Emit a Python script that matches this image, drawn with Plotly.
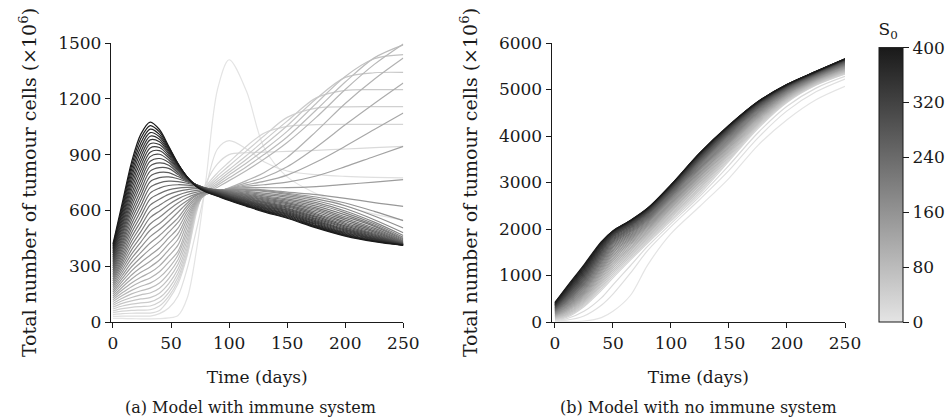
import plotly.graph_objects as go
from plotly.colors import sample_colorscale

# ---------------- data ----------------
S0_VALUES = [0, 10, 20, 30, 40, 50, 60, 70, 80, 90, 100, 110, 120, 130, 140, 150, 160, 170, 180, 190, 200,
             210, 220, 230, 240, 250, 260, 270, 280, 290, 300, 310, 320, 330, 340, 350, 360, 370, 380, 390, 400]

# (a) model with immune system: time points and one row per S0 value
TIME_A = [0, 8, 16, 24, 32, 40, 48, 56, 64, 72, 80, 90, 100, 115, 130, 150, 175, 200, 225, 250]
TUMOUR_IMMUNE = [
    [20, 19, 18, 17, 17, 18, 22, 35, 130, 390, 760, 1250, 1410, 1240, 940, 780, 690, 625, 580, 548],
    [30, 32, 32, 32, 32, 45, 75, 140, 290, 500, 720, 930, 975, 930, 862, 812, 792, 783, 778, 775],
    [40, 45, 47, 48, 48, 62, 120, 205, 360, 590, 745, 850, 900, 910, 913, 917, 923, 930, 937, 944],
    [50, 58, 62, 64, 66, 86, 138, 222, 368, 600, 727, 802, 860, 945, 1015, 1052, 1061, 1062, 1062, 1062],
    [60, 72, 79, 83, 86, 107, 158, 240, 382, 604, 717, 785, 840, 920, 1000, 1100, 1150, 1157, 1158, 1158],
    [70, 86, 96, 103, 108, 130, 180, 262, 400, 608, 710, 770, 820, 895, 975, 1080, 1205, 1245, 1249, 1249],
    [80, 100, 114, 124, 131, 155, 206, 285, 420, 612, 703, 757, 805, 875, 950, 1055, 1200, 1315, 1340, 1342],
    [90, 114, 132, 146, 156, 182, 233, 310, 442, 617, 698, 745, 790, 855, 925, 1025, 1175, 1320, 1415, 1437],
    [100, 128, 151, 168, 182, 210, 262, 335, 465, 622, 694, 735, 775, 835, 900, 995, 1140, 1290, 1420, 1490],
    [110, 142, 170, 192, 209, 240, 290, 360, 488, 628, 690, 725, 760, 815, 875, 965, 1100, 1250, 1385, 1495],
    [120, 157, 190, 216, 237, 270, 322, 380, 512, 634, 686, 700, 721, 760, 802, 885, 1025, 1175, 1305, 1419],
    [130, 172, 210, 241, 266, 302, 355, 413, 535, 640, 686, 700, 719, 748, 777, 835, 940, 1060, 1175, 1285],
    [140, 187, 231, 267, 296, 333, 388, 445, 556, 646, 687, 701, 718, 738, 756, 790, 860, 945, 1035, 1124],
    [150, 202, 253, 293, 327, 365, 420, 475, 575, 652, 688, 702, 717, 730, 738, 752, 785, 835, 890, 944],
    [160, 218, 275, 320, 359, 398, 452, 505, 593, 658, 690, 703, 716, 722, 722, 722, 728, 740, 752, 765],
    [170, 234, 297, 347, 392, 432, 483, 535, 610, 665, 692, 704, 714, 716, 710, 698, 685, 665, 642, 622],
    [180, 250, 319, 374, 425, 465, 512, 560, 625, 672, 695, 705, 712, 712, 706, 692, 672, 640, 595, 545],
    [190, 266, 342, 402, 459, 497, 542, 590, 640, 680, 697, 706, 711, 708, 702, 686, 662, 625, 570, 505],
    [200, 282, 365, 430, 493, 530, 573, 617, 653, 684, 699, 707, 709, 702, 693, 678, 652, 610, 550, 480],
    [210, 298, 388, 458, 527, 563, 603, 640, 669, 689, 702, 708, 707, 697, 685, 670, 642, 597, 537, 465],
    [220, 314, 411, 486, 561, 596, 632, 662, 684, 698, 707, 709, 705, 692, 678, 662, 633, 587, 528, 455],
    [230, 330, 434, 514, 595, 628, 659, 682, 698, 708, 712, 710, 703, 687, 672, 655, 623, 576, 520, 448],
    [240, 346, 457, 542, 628, 660, 686, 702, 712, 717, 716, 710, 700, 683, 667, 648, 614, 566, 514, 442],
    [250, 362, 480, 570, 661, 690, 710, 720, 724, 725, 719, 709, 698, 679, 662, 642, 606, 557, 505, 437],
    [260, 378, 503, 598, 693, 720, 734, 738, 736, 731, 720, 708, 695, 675, 657, 636, 598, 548, 497, 433],
    [270, 394, 526, 626, 724, 748, 757, 755, 746, 735, 720, 706, 692, 671, 652, 630, 590, 539, 490, 430],
    [280, 410, 549, 654, 754, 776, 780, 770, 753, 737, 719, 704, 689, 667, 647, 624, 582, 531, 483, 427],
    [290, 426, 572, 682, 783, 804, 803, 782, 758, 738, 718, 702, 687, 664, 643, 619, 575, 524, 477, 425],
    [300, 442, 595, 709, 811, 830, 826, 793, 762, 738, 717, 700, 684, 661, 639, 613, 568, 517, 472, 423],
    [310, 458, 618, 736, 838, 855, 843, 802, 765, 737, 715, 698, 681, 657, 634, 608, 562, 511, 467, 421],
    [320, 474, 641, 762, 864, 879, 858, 810, 768, 737, 714, 696, 679, 654, 630, 603, 556, 505, 462, 420],
    [330, 490, 664, 788, 889, 902, 871, 817, 771, 736, 713, 694, 676, 650, 626, 598, 550, 499, 458, 419],
    [340, 506, 687, 814, 913, 921, 883, 823, 773, 735, 711, 692, 674, 647, 622, 593, 544, 494, 454, 418],
    [350, 522, 710, 840, 936, 938, 893, 829, 775, 734, 710, 690, 671, 644, 618, 588, 538, 489, 450, 417],
    [360, 538, 732, 865, 958, 954, 903, 834, 776, 733, 708, 688, 668, 640, 614, 583, 533, 484, 447, 416],
    [370, 555, 754, 890, 979, 969, 912, 839, 777, 732, 707, 686, 666, 637, 610, 578, 528, 480, 444, 415],
    [380, 572, 776, 915, 999, 983, 920, 843, 778, 731, 705, 684, 663, 634, 606, 574, 523, 476, 441, 414],
    [390, 589, 798, 940, 1018, 996, 927, 846, 779, 730, 704, 682, 661, 631, 602, 570, 518, 472, 438, 414],
    [400, 606, 819, 964, 1037, 1009, 934, 849, 779, 729, 702, 680, 658, 628, 599, 566, 514, 468, 436, 413],
    [410, 623, 840, 988, 1056, 1022, 940, 851, 779, 728, 701, 678, 656, 625, 596, 562, 510, 465, 434, 413],
    [420, 640, 860, 1010, 1075, 1035, 945, 852, 778, 727, 699, 676, 653, 622, 592, 558, 506, 462, 432, 412],
]

# (b) model with no immune system
TIME_B = [0, 10, 25, 40, 50, 65, 80, 100, 125, 150, 175, 200, 225, 250]
TUMOUR_NO_IMMUNE = [
    [20, 10, 22, 95, 230, 570, 1230, 1900, 2490, 3090, 3800, 4350, 4780, 5070],
    [30, 40, 130, 360, 600, 1050, 1540, 2050, 2640, 3260, 3960, 4540, 4950, 5226],
    [40, 70, 230, 520, 800, 1210, 1630, 2115, 2710, 3370, 4070, 4640, 5030, 5282],
    [50, 100, 330, 680, 950, 1330, 1700, 2170, 2760, 3460, 4160, 4720, 5090, 5330],
    [60, 120, 354, 717, 993, 1367, 1732, 2204, 2798, 3493, 4185, 4737, 5103, 5344],
    [70, 135, 379, 754, 1036, 1403, 1764, 2236, 2835, 3525, 4209, 4753, 5116, 5358],
    [80, 153, 403, 789, 1077, 1438, 1795, 2268, 2871, 3557, 4233, 4769, 5128, 5372],
    [90, 170, 427, 825, 1119, 1473, 1825, 2300, 2907, 3589, 4257, 4785, 5140, 5385],
    [100, 188, 452, 860, 1159, 1507, 1855, 2331, 2942, 3619, 4280, 4801, 5152, 5398],
    [110, 205, 476, 895, 1199, 1541, 1885, 2363, 2977, 3650, 4303, 4816, 5164, 5412],
    [120, 223, 500, 929, 1238, 1574, 1914, 2392, 3011, 3679, 4325, 4831, 5176, 5424],
    [130, 240, 524, 962, 1275, 1605, 1942, 2421, 3043, 3708, 4347, 4846, 5187, 5436],
    [140, 258, 549, 997, 1314, 1638, 1970, 2451, 3077, 3737, 4369, 4860, 5198, 5449],
    [150, 276, 573, 1030, 1350, 1669, 1997, 2479, 3108, 3765, 4390, 4874, 5209, 5461],
    [160, 293, 597, 1062, 1385, 1698, 2023, 2506, 3139, 3792, 4410, 4888, 5219, 5472],
    [170, 311, 622, 1095, 1421, 1728, 2050, 2533, 3170, 3819, 4430, 4902, 5230, 5484],
    [180, 328, 646, 1126, 1454, 1757, 2074, 2559, 3199, 3844, 4449, 4915, 5240, 5495],
    [190, 346, 670, 1158, 1487, 1785, 2099, 2585, 3228, 3870, 4469, 4927, 5250, 5506],
    [200, 363, 695, 1189, 1521, 1813, 2124, 2611, 3257, 3895, 4488, 4940, 5260, 5516],
    [210, 381, 719, 1220, 1552, 1840, 2147, 2635, 3284, 3919, 4506, 4952, 5269, 5527],
    [220, 398, 743, 1250, 1582, 1865, 2170, 2658, 3311, 3942, 4523, 4964, 5278, 5537],
    [230, 416, 767, 1280, 1613, 1891, 2192, 2682, 3337, 3965, 4540, 4976, 5287, 5546],
    [240, 434, 793, 1310, 1642, 1916, 2214, 2704, 3363, 3987, 4557, 4987, 5296, 5556],
    [250, 452, 817, 1338, 1669, 1939, 2234, 2725, 3387, 4008, 4573, 4998, 5304, 5565],
    [260, 469, 841, 1367, 1696, 1962, 2254, 2746, 3410, 4029, 4589, 5008, 5312, 5574],
    [270, 487, 866, 1394, 1722, 1983, 2273, 2766, 3432, 4048, 4603, 5018, 5319, 5582],
    [280, 504, 890, 1421, 1747, 2005, 2292, 2785, 3454, 4068, 4618, 5028, 5327, 5590],
    [290, 522, 914, 1448, 1771, 2025, 2310, 2804, 3475, 4086, 4632, 5037, 5334, 5598],
    [300, 539, 938, 1474, 1793, 2044, 2326, 2821, 3495, 4103, 4644, 5046, 5341, 5606],
    [310, 557, 963, 1499, 1816, 2063, 2343, 2838, 3514, 4120, 4657, 5054, 5347, 5613],
    [320, 575, 987, 1524, 1836, 2080, 2358, 2854, 3532, 4135, 4669, 5062, 5353, 5619],
    [330, 592, 1011, 1548, 1855, 2096, 2372, 2869, 3548, 4150, 4680, 5069, 5359, 5626],
    [340, 610, 1036, 1571, 1873, 2111, 2386, 2883, 3564, 4164, 4690, 5076, 5364, 5632],
    [350, 627, 1060, 1595, 1889, 2125, 2398, 2895, 3578, 4176, 4699, 5083, 5369, 5637],
    [360, 645, 1084, 1617, 1905, 2139, 2410, 2908, 3592, 4188, 4709, 5089, 5374, 5642],
    [370, 662, 1109, 1638, 1919, 2150, 2419, 2918, 3604, 4198, 4716, 5094, 5378, 5646],
    [380, 680, 1133, 1659, 1932, 2161, 2429, 2928, 3615, 4208, 4724, 5099, 5382, 5651],
    [390, 697, 1157, 1679, 1942, 2170, 2437, 2936, 3624, 4216, 4730, 5103, 5385, 5654],
    [400, 715, 1181, 1697, 1951, 2177, 2443, 2943, 3632, 4223, 4735, 5106, 5387, 5657],
    [410, 732, 1206, 1714, 1957, 2182, 2448, 2948, 3637, 4228, 4738, 5109, 5389, 5659],
    [420, 750, 1230, 1730, 1960, 2185, 2450, 2950, 3640, 4230, 4740, 5110, 5390, 5660],
]

X_TICKS = [0, 50, 100, 150, 200, 250]
Y_TICKS_A = [0, 300, 600, 900, 1200, 1500]
Y_TICKS_B = [0, 1000, 2000, 3000, 4000, 5000, 6000]
CBAR_TICKS = [0, 80, 160, 240, 320, 400]

# ---------------- style ----------------
W, H = 952, 418
FONT = "DejaVu Serif"
INK = "#1a1a1a"
COLORSCALE = [[0.0, "rgb(228,228,228)"], [1.0, "rgb(26,26,26)"]]
S0_MAX = 400
TICK_SIZE = 17
YTITLE_SIZE = 19
XTITLE_SIZE = 17
CAPTION_SIZE = 16

fig = go.Figure()

for s0, row in zip(S0_VALUES, TUMOUR_IMMUNE):
    col = sample_colorscale(COLORSCALE, s0 / S0_MAX)[0]
    fig.add_trace(go.Scatter(x=TIME_A, y=row, mode="lines", xaxis="x", yaxis="y",
                             line=dict(color=col, width=1.2, shape="spline", smoothing=0.9),
                             showlegend=False, hoverinfo="skip"))

for s0, row in zip(S0_VALUES, TUMOUR_NO_IMMUNE):
    col = sample_colorscale(COLORSCALE, s0 / S0_MAX)[0]
    fig.add_trace(go.Scatter(x=TIME_B, y=row, mode="lines", xaxis="x2", yaxis="y2",
                             line=dict(color=col, width=1.2, shape="spline", smoothing=0.9),
                             showlegend=False, hoverinfo="skip"))

# colour bar carrier (bar occupies the plot height, title sits above it)
fig.add_trace(go.Scatter(
    x=[None], y=[None], mode="markers", xaxis="x2", yaxis="y2", showlegend=False, hoverinfo="skip",
    marker=dict(color=[0], cmin=0, cmax=S0_MAX, colorscale=COLORSCALE, showscale=True,
                colorbar=dict(thickness=24, thicknessmode="pixels", len=302, lenmode="pixels",
                              x=879 / W, xanchor="left", y=0, yanchor="bottom", xpad=0, ypad=0,
                              outlinewidth=1, outlinecolor=INK,
                              tickvals=CBAR_TICKS, ticks="outside", ticklen=6, tickwidth=1.2,
                              tickcolor=INK, tickfont=dict(family=FONT, size=TICK_SIZE, color=INK),
                              title=dict(text="S<sub>0</sub>", side="top",
                                         font=dict(family=FONT, size=TICK_SIZE, color=INK))))))

axis_common = dict(showline=True, linecolor=INK, linewidth=1.3, ticks="outside", ticklen=5,
                   tickwidth=1.3, tickcolor=INK, showgrid=False, zeroline=False,
                   tickfont=dict(family=FONT, size=TICK_SIZE, color=INK))

ytitle = "Total number of tumour cells (×10<sup>6</sup>)"
xtitle_font = dict(family=FONT, size=XTITLE_SIZE, color=INK)
ytitle_font = dict(family=FONT, size=YTITLE_SIZE, color=INK)
fig.update_layout(
    width=W, height=H, margin=dict(l=0, r=0, t=43, b=96, autoexpand=False),
    paper_bgcolor="white", plot_bgcolor="white",
    font=dict(family=FONT, size=TICK_SIZE, color=INK),
    xaxis=dict(domain=[111 / W, 403.3 / W], range=[-1.7, 250], tickvals=X_TICKS, anchor="y",
               title=dict(text="Time (days)", standoff=19, font=xtitle_font), **axis_common),
    yaxis=dict(domain=[0, 1], range=[0, 1500], tickvals=Y_TICKS_A, anchor="x",
               title=dict(text=ytitle, standoff=16, font=ytitle_font), **axis_common),
    xaxis2=dict(domain=[551.7 / W, 845 / W], range=[-2.8, 250], tickvals=X_TICKS, anchor="y2",
                title=dict(text="Time (days)", standoff=19, font=xtitle_font), **axis_common),
    yaxis2=dict(domain=[0, 1], range=[0, 6000], tickvals=Y_TICKS_B, anchor="x2",
                title=dict(text=ytitle, standoff=16, font=ytitle_font), **axis_common),
    annotations=[
        dict(text="(a) Model with immune system", x=250 / W, y=-0.308, xref="paper", yref="paper",
             showarrow=False, xanchor="center", yanchor="middle",
             font=dict(family=FONT, size=CAPTION_SIZE, color=INK)),
        dict(text="(b) Model with no immune system", x=698 / W, y=-0.308, xref="paper", yref="paper",
             showarrow=False, xanchor="center", yanchor="middle",
             font=dict(family=FONT, size=CAPTION_SIZE, color=INK)),
    ],
)

fig.write_html("out.html", config={"displayModeBar": False},
               post_script="document.body.style.margin='0';document.body.style.overflow='hidden';")
